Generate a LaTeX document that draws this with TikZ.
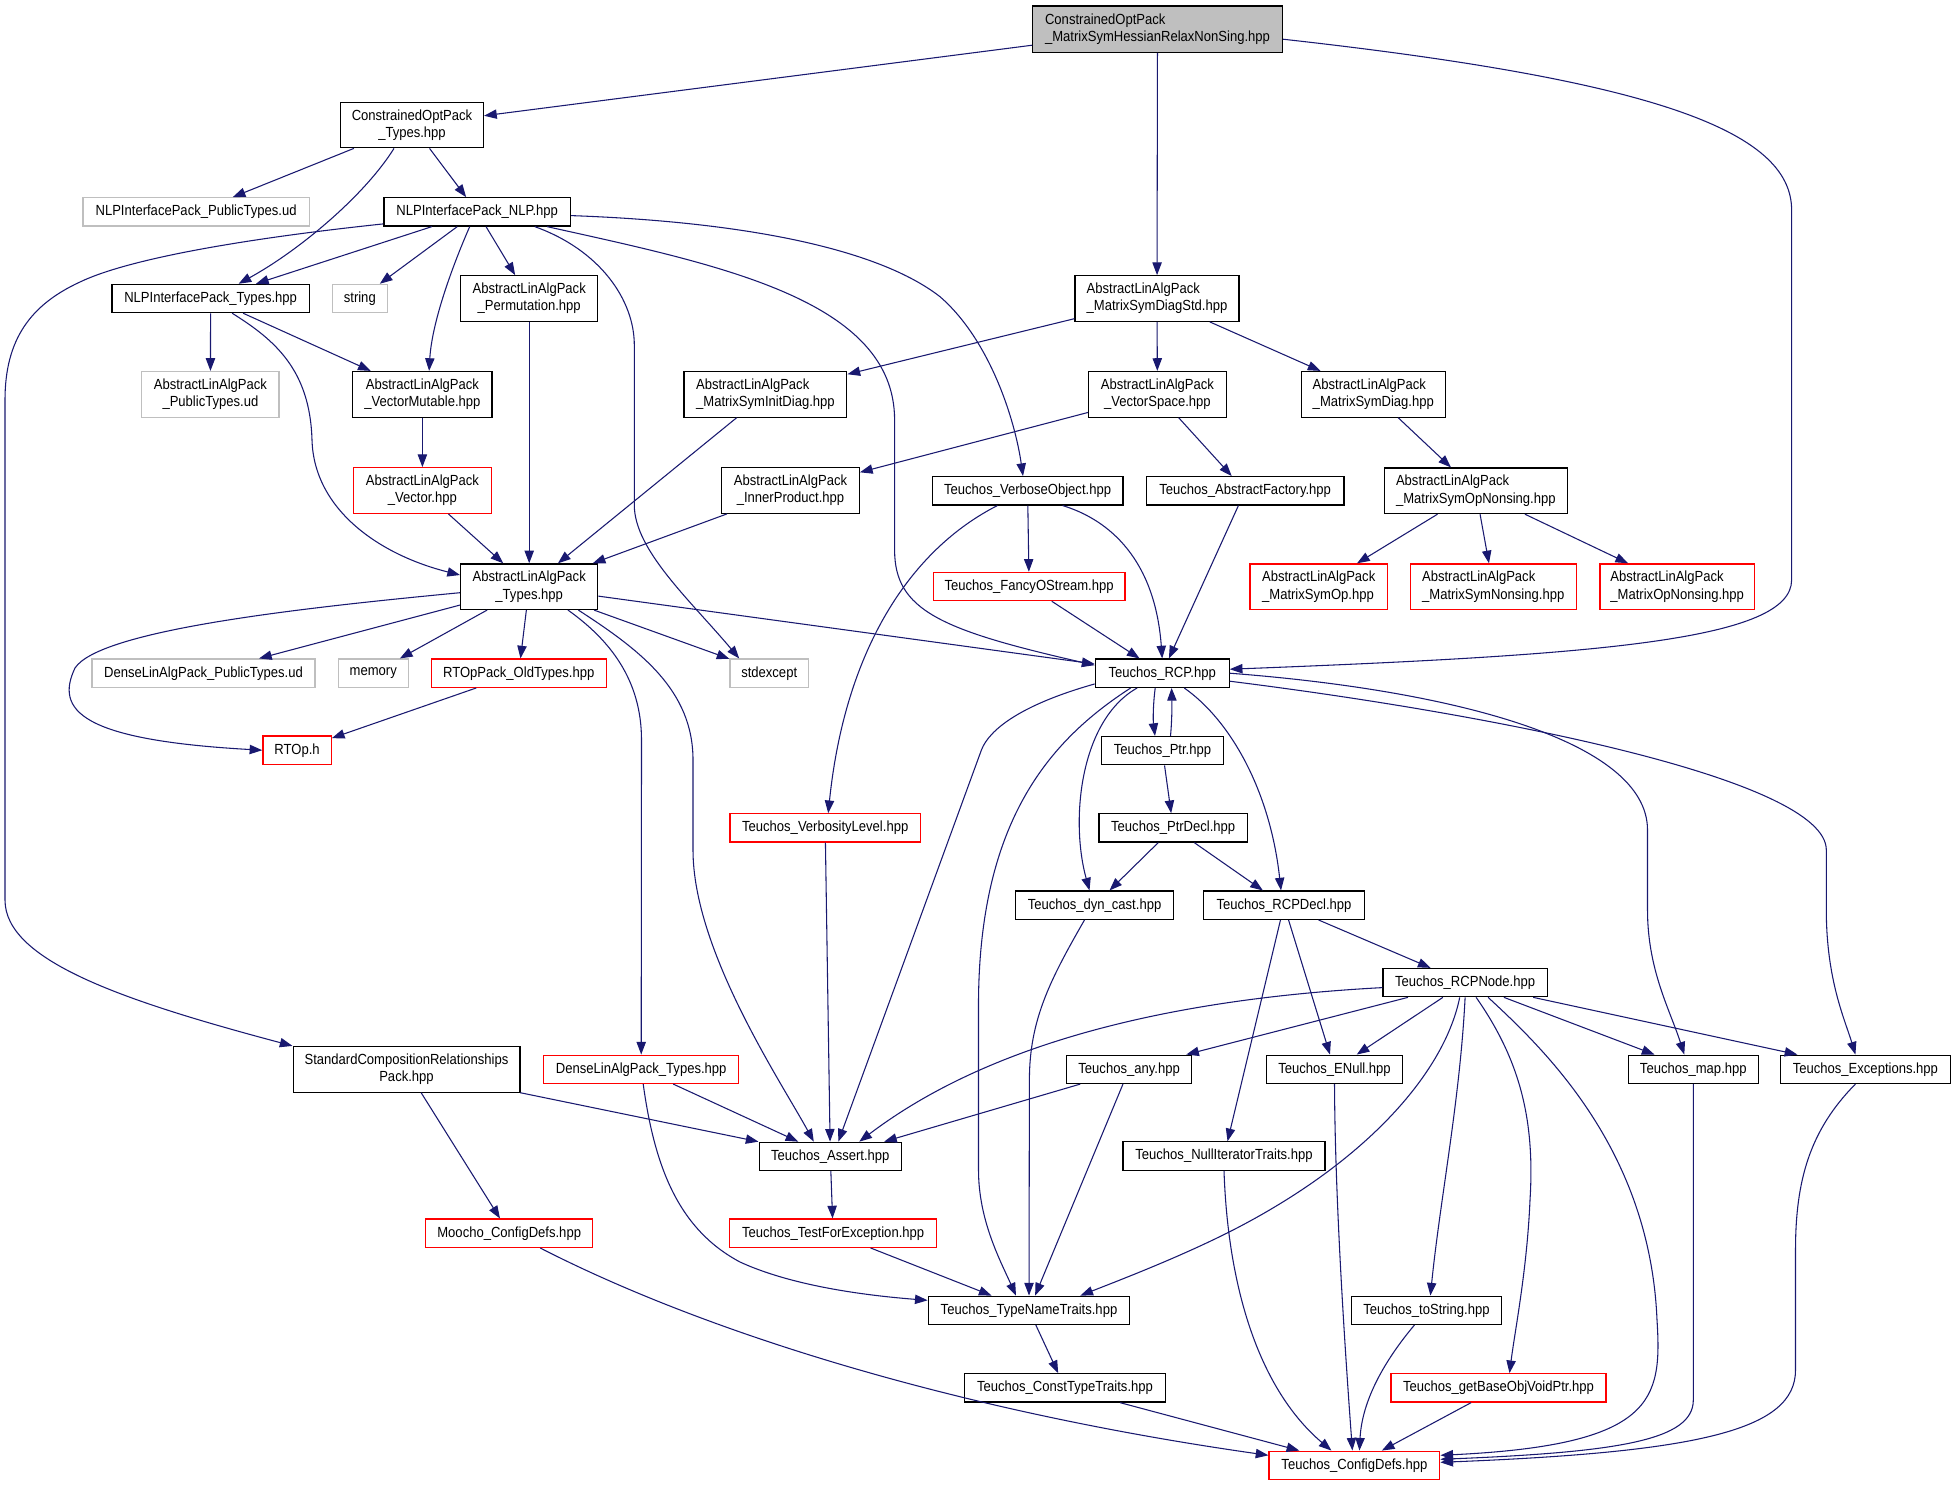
\documentclass[tikz,border=0pt]{standalone}
\usepackage{fontspec}
\setmainfont{Liberation Sans}[FakeStretch=0.89]
\usetikzlibrary{arrows.meta,calc}
\definecolor{edgec}{RGB}{25,25,112}
\definecolor{grayb}{RGB}{191,191,191}
\newcommand\mknode[7]{\node[#1,minimum width=#5*0.75pt,minimum height=#6*0.75pt] (#2) at (#3,#4) {#7};}
\begin{document}
\begin{tikzpicture}[x=0.75pt,y=-0.75pt,
  base/.style={rectangle,inner sep=0pt,line width=0.9pt,align=center,font=\fontsize{11pt}{13pt}\selectfont},
  blk/.style={base,draw=black},
  gry/.style={base,draw=grayb},
  red/.style={base,draw=red},
  topn/.style={base,draw=black,fill=grayb},
  dep/.style={draw=edgec,line width=0.8pt,-{Triangle[length=9.5pt,width=7pt]}}]
\useasboundingbox (0,0) rectangle (1955,1485);
\fill[white] (0,0) rectangle (1955,1485);
% nodes
\mknode{topn,align=left}{top}{1157.5}{29.2}{249.6}{46.3}{ConstrainedOptPack\\\_MatrixSymHessianRelaxNonSing.hpp}
\mknode{blk}{copt}{412}{125}{143}{45.6}{ConstrainedOptPack\\\_Types.hpp}
\mknode{gry}{nlppub}{196.1}{211.9}{226.4}{28.3}{NLPInterfacePack\_PublicTypes.ud}
\mknode{blk}{nlp}{477.2}{211.9}{186.6}{28.3}{NLPInterfacePack\_NLP.hpp}
\mknode{blk}{nlptypes}{210.6}{298.5}{197.4}{28.3}{NLPInterfacePack\_Types.hpp}
\mknode{gry}{string}{359.8}{298.5}{54.7}{28.3}{string}
\mknode{blk}{perm}{529.2}{298.5}{137.2}{45.6}{AbstractLinAlgPack\\\_Permutation.hpp}
\mknode{gry}{alapub}{210.4}{394.3}{137.2}{45.6}{AbstractLinAlgPack\\\_PublicTypes.ud}
\mknode{blk}{vecmut}{422.4}{394.3}{139.3}{45.6}{AbstractLinAlgPack\\\_VectorMutable.hpp}
\mknode{blk,align=left}{symdiagstd}{1157}{298.5}{164}{45.6}{AbstractLinAlgPack\\\_MatrixSymDiagStd.hpp}
\mknode{blk,align=left}{syminitdiag}{765.4}{394.3}{162.9}{45.6}{AbstractLinAlgPack\\\_MatrixSymInitDiag.hpp}
\mknode{blk}{vecspace}{1157.4}{394.3}{137.7}{45.6}{AbstractLinAlgPack\\\_VectorSpace.hpp}
\mknode{blk,align=left}{symdiag}{1373.3}{394.3}{144}{45.6}{AbstractLinAlgPack\\\_MatrixSymDiag.hpp}
\mknode{red}{vector}{422.4}{490.5}{137.7}{45.6}{AbstractLinAlgPack\\\_Vector.hpp}
\mknode{blk}{innerprod}{790.5}{490.5}{137.7}{45.6}{AbstractLinAlgPack\\\_InnerProduct.hpp}
\mknode{blk}{verbose}{1027.6}{490.8}{190.7}{28.3}{Teuchos\_VerboseObject.hpp}
\mknode{blk}{absfact}{1245.1}{490.8}{197.6}{28.3}{Teuchos\_AbstractFactory.hpp}
\mknode{blk,align=left}{symopnonsing}{1475.8}{490.8}{182.9}{45.6}{AbstractLinAlgPack\\\_MatrixSymOpNonsing.hpp}
\mknode{blk}{alatypes}{529.2}{586.7}{137.2}{45.6}{AbstractLinAlgPack\\\_Types.hpp}
\mknode{red}{fancy}{1029.1}{586.5}{191.9}{28.3}{Teuchos\_FancyOStream.hpp}
\mknode{red,align=left}{symop}{1318.7}{586.7}{137.3}{45.6}{AbstractLinAlgPack\\\_MatrixSymOp.hpp}
\mknode{red,align=left}{symnonsing}{1493.2}{586.7}{165.8}{45.6}{AbstractLinAlgPack\\\_MatrixSymNonsing.hpp}
\mknode{red,align=left}{opnonsing}{1677.2}{586.7}{154.6}{45.6}{AbstractLinAlgPack\\\_MatrixOpNonsing.hpp}
\mknode{gry}{densepub}{203.5}{673.2}{223.1}{28.3}{DenseLinAlgPack\_PublicTypes.ud}
\mknode{gry}{memory}{373.3}{673.2}{70.1}{28.3}{memory}
\mknode{red}{rtoppack}{518.7}{673.2}{174.9}{28.3}{RTOpPack\_OldTypes.hpp}
\mknode{gry}{stdexcept}{769.2}{673.2}{78.4}{28.3}{stdexcept}
\mknode{blk}{rcp}{1162.2}{673.2}{133.9}{28.3}{Teuchos\_RCP.hpp}
\mknode{red}{rtop}{297.1}{750.2}{68.4}{28.3}{RTOp.h}
\mknode{blk}{ptr}{1162.5}{750.7}{121.9}{28.3}{Teuchos\_Ptr.hpp}
\mknode{red}{verbosity}{825.2}{827.9}{190.3}{28.3}{Teuchos\_VerbosityLevel.hpp}
\mknode{blk}{ptrdecl}{1173.2}{827.9}{148.4}{28.3}{Teuchos\_PtrDecl.hpp}
\mknode{blk}{dyncast}{1094.5}{905.2}{157.5}{28.3}{Teuchos\_dyn\_cast.hpp}
\mknode{blk}{rcpdecl}{1284}{905.2}{160.3}{28.3}{Teuchos\_RCPDecl.hpp}
\mknode{blk}{rcpnode}{1465.1}{982.6}{164.2}{28.3}{Teuchos\_RCPNode.hpp}
\mknode{blk}{scrp}{406.5}{1069.3}{226.8}{45.6}{StandardCompositionRelationships\\Pack.hpp}
\mknode{red}{densetypes}{641.2}{1069.3}{195.3}{28.3}{DenseLinAlgPack\_Types.hpp}
\mknode{blk}{any}{1129.1}{1069.3}{125.4}{28.3}{Teuchos\_any.hpp}
\mknode{blk}{enull}{1334.5}{1069.3}{135.9}{28.3}{Teuchos\_ENull.hpp}
\mknode{blk}{map}{1693.3}{1069.3}{129.9}{28.3}{Teuchos\_map.hpp}
\mknode{blk}{exceptions}{1865.4}{1069.3}{170}{28.3}{Teuchos\_Exceptions.hpp}
\mknode{blk}{assert}{830.3}{1156.4}{142.4}{28.3}{Teuchos\_Assert.hpp}
\mknode{blk}{nulliter}{1224}{1156}{202}{28.3}{Teuchos\_NullIteratorTraits.hpp}
\mknode{red}{moocho}{509.2}{1233.2}{166.7}{28.3}{Moocho\_ConfigDefs.hpp}
\mknode{red}{testfor}{833.1}{1233.2}{206.8}{28.3}{Teuchos\_TestForException.hpp}
\mknode{blk}{typename}{1029}{1310.3}{201.5}{28.3}{Teuchos\_TypeNameTraits.hpp}
\mknode{blk}{tostring}{1426.4}{1310.3}{149.7}{28.3}{Teuchos\_toString.hpp}
\mknode{blk}{consttype}{1065}{1387.9}{201.4}{28.3}{Teuchos\_ConstTypeTraits.hpp}
\mknode{red}{getbase}{1498.5}{1387.9}{215.1}{28.3}{Teuchos\_getBaseObjVoidPtr.hpp}
\mknode{red}{configdefs}{1354.4}{1465.3}{170.8}{28.3}{Teuchos\_ConfigDefs.hpp}
% edges
\draw[dep] (top) -- (copt);
\draw[dep] (top) -- (symdiagstd);
\draw[dep] ($(top.east)+(0,10)$) .. controls (1650,80) and (1791.6,130) .. (1791.6,210) -- (1791.6,580) .. controls (1791.6,640) and (1600,655) .. ($(rcp.east)+(0,-4)$);
\draw[dep] (copt) -- (nlppub);
\draw[dep] ($(copt.south)+(-18,0)$) .. controls (365,195) and (300,250) .. ($(nlptypes.north)+(28,0)$);
\draw[dep] (copt) -- (nlp);
\draw[dep] (nlp) -- (nlptypes);
\draw[dep] (nlp) -- (string);
\draw[dep] ($(nlp.south)+(-7.5,0)$) .. controls (455,260) and (432,320) .. ($(vecmut.north)+(6.7,0)$);
\draw[dep] (nlp) -- (perm);
\draw[dep] ($(nlp.south)+(57.6,0)$) .. controls (600,250) and (634.3,300) .. (634.3,345) -- (634.3,505) .. controls (634.3,550) and (690,600) .. ($(stdexcept.north)+(-30,0)$);
\draw[dep] ($(nlp.south)+(70,0)$) .. controls (720,265) and (894.6,300) .. (894.6,420) -- (894.6,550) .. controls (894.6,610) and (940,630) .. ($(rcp.west)+(0,-8)$);
\draw[dep] ($(nlp.east)+(0,3.7)$) .. controls (750,222) and (880,250) .. (940,296.7) .. controls (990,340) and (1015,420) .. ($(verbose.north)+(-4.6,0)$);
\draw[dep] ($(nlp.west)+(0,12)$) .. controls (250,238) and (130,258) .. (80,282) .. controls (30,305) and (5,340) .. (5,400) -- (5,900) .. controls (5,960) and (120,1000) .. (scrp.north west);
\draw[dep] (nlptypes) -- (alapub);
\draw[dep] (nlptypes) -- (vecmut);
\draw[dep] ($(nlptypes.south)+(21.6,0)$) .. controls (275,340) and (310,370) .. (312,440) .. controls (314,510) and (380,555) .. ($(alatypes.west)+(0,-11.7)$);
\draw[dep] (perm) -- (alatypes);
\draw[dep] (vecmut) -- (vector);
\draw[dep] (vector) -- (alatypes);
\draw[dep] (symdiagstd) -- (syminitdiag);
\draw[dep] (symdiagstd) -- (vecspace);
\draw[dep] (symdiagstd) -- (symdiag);
\draw[dep] (syminitdiag) -- (alatypes);
\draw[dep] (vecspace) -- (innerprod);
\draw[dep] (vecspace) -- (absfact);
\draw[dep] (symdiag) -- (symopnonsing);
\draw[dep] (symopnonsing) -- (symop);
\draw[dep] (symopnonsing) -- (symnonsing);
\draw[dep] (symopnonsing) -- (opnonsing);
\draw[dep] (innerprod) -- (alatypes);
\draw[dep] (verbose) -- (fancy);
\draw[dep] ($(verbose.south)+(35,0)$) .. controls (1110,520) and (1155,560) .. (rcp.north);
\draw[dep] ($(verbose.south)+(-30.2,0)$) .. controls (910,550) and (845,650) .. ($(verbosity.north)+(3,0)$);
\draw[dep] (absfact) -- (rcp);
\draw[dep] (fancy) -- (rcp);
\draw[dep] ($(alatypes.west)+(0,6)$) .. controls (300,608) and (100,630) .. (75,668) .. controls (55,710) and (80,740) .. (rtop.west);
\draw[dep] (alatypes) -- (densepub);
\draw[dep] (alatypes) -- (memory);
\draw[dep] (alatypes) -- (rtoppack);
\draw[dep] (alatypes) -- (stdexcept);
\draw[dep] (alatypes) -- (rcp);
\draw[dep] ($(alatypes.south)+(38.8,0)$) .. controls (610,640) and (641.5,680) .. (641.5,740) -- (densetypes.north);
\draw[dep] ($(alatypes.south)+(49.2,0)$) .. controls (640,650) and (693,690) .. (693,760) -- (693,850) .. controls (693,950) and (780,1080) .. ($(assert.north)+(-16.5,0)$);
\draw[dep] (rtoppack) -- (rtop);
\draw[dep] ($(rcp.south)+(-7,0)$) .. controls (1153,705) and (1153,720) .. ($(ptr.north)+(-7.5,0)$);
\draw[dep] ($(ptr.north)+(8,0)$) .. controls (1172,720) and (1172,705) .. ($(rcp.south)+(9.4,0)$);
\draw[dep] ($(rcp.south)+(-25,0)$) .. controls (1080,720) and (1070,820) .. ($(dyncast.north)+(-5,0)$);
\draw[dep] ($(rcp.south)+(22,0)$) .. controls (1230,720) and (1270,790) .. ($(rcpdecl.north)+(-3,0)$);
\draw[dep] ($(rcp.south west)+(0,-4)$) .. controls (1020,705) and (989,730) .. (981.4,750) -- ($(assert.north)+(8,0)$);
\draw[dep] ($(rcp.south)+(-31.5,0)$) .. controls (1050,740) and (980,820) .. (978.5,1000) -- (978.5,1170) .. controls (978.5,1220) and (1000,1260) .. ($(typename.north)+(-13,0)$);
\draw[dep] (rcp.east) .. controls (1450,690) and (1647.5,740) .. (1647.5,830) -- (1647.5,910) .. controls (1647.5,970) and (1670,1010) .. ($(map.north)+(-9,0)$);
\draw[dep] ($(rcp.east)+(0,8)$) .. controls (1500,715) and (1826.3,780) .. (1826.3,850) -- (1826.3,910) .. controls (1826.3,980) and (1845,1020) .. ($(exceptions.north)+(-10,0)$);
\draw[dep] (ptr) -- (ptrdecl);
\draw[dep] (ptrdecl) -- (dyncast);
\draw[dep] (ptrdecl) -- (rcpdecl);
\draw[dep] ($(dyncast.south)+(-10,0)$) .. controls (1050,980) and (1029.4,1020) .. (1029.4,1080) -- (typename.north);
\draw[dep] (rcpdecl) -- (rcpnode);
\draw[dep] (rcpdecl) -- (enull);
\draw[dep] (rcpdecl) -- (nulliter);
\draw[dep] ($(rcpnode.west)+(0,5)$) .. controls (1150,1000) and (980,1050) .. ($(assert.north)+(29,0)$);
\draw[dep] (rcpnode) -- (any);
\draw[dep] (rcpnode) -- (enull);
\draw[dep] (rcpnode) -- (map);
\draw[dep] (rcpnode) -- (exceptions);
\draw[dep] ($(rcpnode.south)+(-5.4,0)$) .. controls (1445,1070) and (1370,1160) .. (1231.7,1230.7) .. controls (1180,1257) and (1120,1280) .. ($(typename.north east)+(-50,0)$);
\draw[dep] (rcpnode.south) .. controls (1460,1100) and (1440,1200) .. ($(tostring.north)+(4,0)$);
\draw[dep] ($(rcpnode.south)+(11,0)$) .. controls (1520,1060) and (1535,1120) .. (1530,1200) .. controls (1527,1270) and (1515,1330) .. ($(getbase.north)+(11,0)$);
\draw[dep] ($(rcpnode.south)+(23,0)$) .. controls (1545,1050) and (1650,1150) .. (1657,1320) .. controls (1662,1400) and (1655,1445) .. ($(configdefs.east)+(0,-10)$);
\draw[dep] (verbosity) -- (assert);
\draw[dep] (scrp) -- (assert);
\draw[dep] (scrp) -- (moocho);
\draw[dep] (densetypes) -- (assert);
\draw[dep] ($(densetypes.south)+(2,0)$) .. controls (655,1170) and (680,1230) .. (740,1262) .. controls (790,1285) and (860,1295) .. ($(typename.west)+(0,-10)$);
\draw[dep] ($(any.south)+(-48.8,0)$) -- ($(assert.north east)+(-18,0)$);
\draw[dep] (any) -- (typename);
\draw[dep] (enull.south) .. controls (1335,1200) and (1345,1350) .. ($(configdefs.north)+(-2,0)$);
\draw[dep] ($(tostring.south)+(-12,0)$) .. controls (1385,1360) and (1362,1400) .. ($(configdefs.north)+(5,0)$);
\draw[dep] (nulliter.south) .. controls (1228,1290) and (1260,1390) .. ($(configdefs.north)+(-23,0)$);
\draw[dep] (consttype) -- (configdefs);
\draw[dep] (getbase) -- (configdefs);
\draw[dep] (assert) -- (testfor);
\draw[dep] (testfor) -- (typename);
\draw[dep] (typename) -- (consttype);
\draw[dep] ($(moocho.south)+(31,0)$) .. controls (700,1330) and (950,1410) .. ($(configdefs.west)+(0,-10)$);
\draw[dep] (map.south) -- (1693.3,1400) .. controls (1693.3,1440) and (1620,1452) .. ($(configdefs.east)+(0,-6)$);
\draw[dep] ($(exceptions.south)+(-10,0)$) .. controls (1810,1130) and (1795.5,1180) .. (1795.5,1250) -- (1795.5,1370) .. controls (1795.5,1430) and (1700,1452) .. ($(configdefs.east)+(0,-3)$);
\end{tikzpicture}
\end{document}
